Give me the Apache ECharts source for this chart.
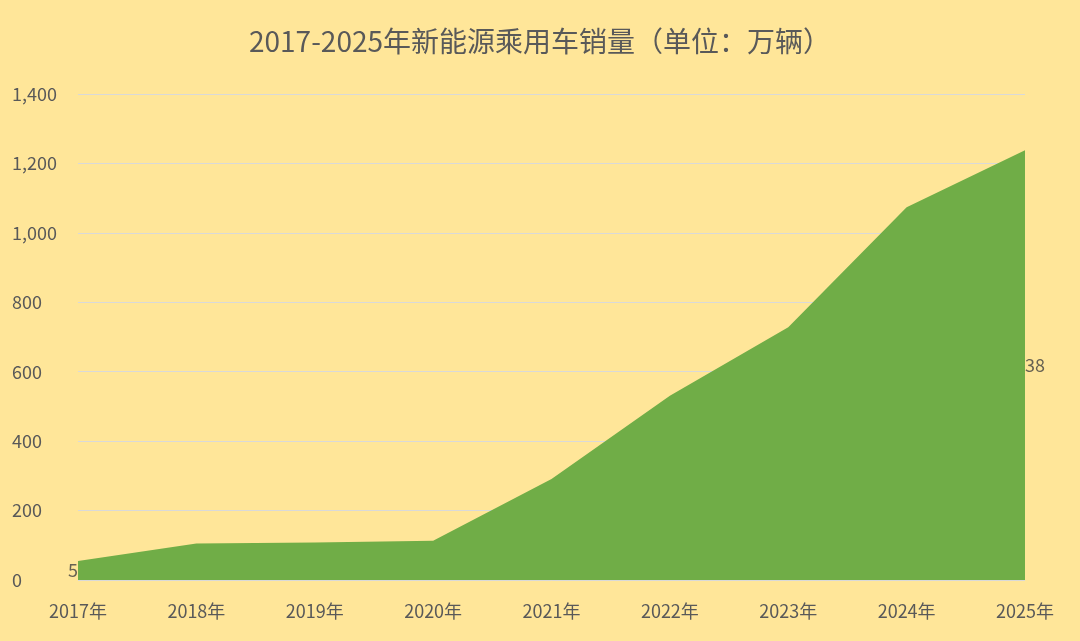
<!DOCTYPE html><html><head><meta charset="utf-8"><script src="https://cdn.jsdelivr.net/npm/echarts@6/dist/echarts.min.js"></script></head><body style="margin:0"><div id="c" style="width:1080px;height:641px"></div><script>
const categories=['2017年','2018年','2019年','2020年','2021年','2022年','2023年','2024年','2025年'];
const sales=[55,105,108,113,291,531,728,1074,1238];
const yTicks=[0,200,400,600,800,1000,1200,1400];
const c=echarts.init(document.getElementById('c'));
const f='"Noto Sans CJK SC","Noto Sans",sans-serif';
c.setOption({backgroundColor:'#FFE699',animation:false,
title:{text:'2017-2025年新能源乘用车销量（单位：万辆）',left:'center',top:22,textStyle:{fontFamily:f,fontSize:28,fontWeight:'normal',color:'#595959'}},
grid:{left:78,right:55,top:94,bottom:61},
xAxis:{type:'category',data:categories,boundaryGap:false,axisLine:{show:false},axisTick:{show:false},axisLabel:{margin:22,fontSize:18,color:'#595959',fontFamily:f}},
yAxis:{type:'value',min:0,max:1400,interval:200,axisLabel:{fontSize:18,color:'#595959',fontFamily:f,align:'left',margin:66},splitLine:{lineStyle:{color:'#D9D9D9'}}},
series:[{type:'line',data:sales,symbol:'none',lineStyle:{width:0},areaStyle:{color:'#70AD47',opacity:1}},
{type:'scatter',data:sales.map((v,i)=>[i,v/2]),symbolSize:0,label:{show:true,position:'inside',formatter:p=>sales[p.dataIndex],fontSize:18,color:'#404040',fontFamily:f}}]});
</script></body></html>
